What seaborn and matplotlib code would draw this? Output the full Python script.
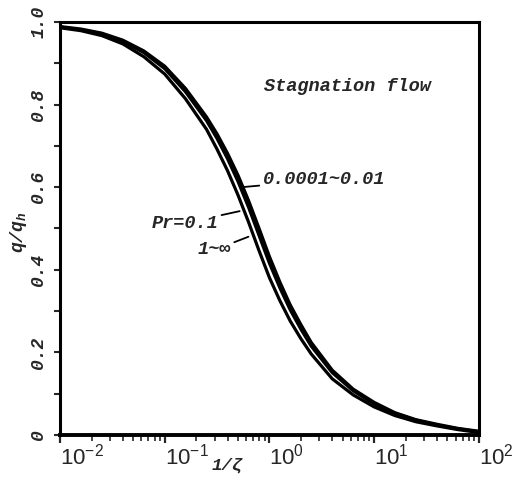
import numpy as np
import pandas as pd
import seaborn as sns
import matplotlib.pyplot as plt

# 1/zeta values (shared by all curves)
inv_zeta = [0.01, 0.0158, 0.0251, 0.0398, 0.0631, 0.1, 0.158, 0.251, 0.316, 0.398,
            0.501, 0.631, 0.794, 1.0, 1.26, 1.58, 2.0, 2.51, 3.98, 6.31,
            10, 15.8, 25.1, 39.8, 63.1, 100]

# q/q_h, one list per Pr group
q_low_pr = [0.989, 0.983, 0.973, 0.956, 0.930, 0.893, 0.839, 0.770, 0.729, 0.682,
            0.629, 0.568, 0.501, 0.432, 0.370, 0.315, 0.267, 0.224, 0.157, 0.111,
            0.079, 0.054, 0.037, 0.026, 0.016, 0.009]
q_pr_01 = [0.988, 0.981, 0.971, 0.953, 0.926, 0.887, 0.831, 0.761, 0.718, 0.669,
           0.614, 0.552, 0.484, 0.416, 0.356, 0.303, 0.256, 0.215, 0.151, 0.107,
           0.075, 0.052, 0.036, 0.024, 0.015, 0.008]
q_high_pr = [0.986, 0.979, 0.967, 0.947, 0.916, 0.874, 0.814, 0.740, 0.692, 0.640,
             0.581, 0.516, 0.447, 0.381, 0.325, 0.276, 0.233, 0.196, 0.136, 0.097,
             0.068, 0.047, 0.032, 0.022, 0.013, 0.006]

series_names = ["0.0001~0.01", "0.1", "1~inf"]

y_ticks = [0, 0.2, 0.4, 0.6, 0.8, 1.0]
y_tick_labels = ["0", "0.2", "0.4", "0.6", "0.8", "1.0"]
x_ticks = [0.01, 0.1, 1, 10, 100]
x_tick_labels = [r"$\mathregular{10^{-2}}$", r"$\mathregular{10^{-1}}$", r"$\mathregular{10^{0}}$",
                 r"$\mathregular{10^{1}}$", r"$\mathregular{10^{2}}$"]

df = pd.DataFrame({
    "x": inv_zeta * 3,
    "q": q_low_pr + q_pr_01 + q_high_pr,
    "Pr": np.repeat(series_names, len(inv_zeta)),
})

sns.set_style("ticks")
plt.rcParams["font.family"] = ["Liberation Sans", "DejaVu Sans"]
plt.rcParams["mathtext.fontset"] = "custom"
plt.rcParams["mathtext.rm"] = "Liberation Sans"
plt.rcParams["mathtext.it"] = "Liberation Mono:italic:bold"

mono = dict(family=["Liberation Mono", "DejaVu Sans Mono"], style="italic", weight="bold")

fig = plt.figure(figsize=(5.19, 4.78), dpi=100)
ax = fig.add_axes([0.1156, 0.09, 0.807, 0.864])

sns.lineplot(data=df, x="x", y="q", hue="Pr", palette=["black"] * 3,
             linewidth=2.3, legend=False, ax=ax)
for ln in ax.get_lines():
    ln.set_solid_joinstyle("round")

ax.set_xscale("log")
ax.set_xlim(0.01, 100)
ax.set_ylim(0, 1)

for s in ax.spines.values():
    s.set_linewidth(2.2)
    s.set_color("black")
ax.spines["bottom"].set_linewidth(2.8)

ax.set_yticks(y_ticks)
ax.set_yticks(np.arange(0.1, 1.0, 0.2), minor=True)
ax.set_yticklabels(y_tick_labels, rotation=90, va="center", fontsize=13, **mono)
ax.tick_params(axis="y", which="both", direction="out", length=4, width=1.5, pad=5)

ax.set_xticks(x_ticks)
ax.set_xticklabels(x_tick_labels, fontsize=16, ha="left")
ax.tick_params(axis="x", which="major", direction="out", length=6, width=1.6, pad=0)
ax.tick_params(axis="x", which="minor", direction="out", length=4, width=1.2)

ax.set_xlabel("1/\u03b6", fontsize=12.5, **mono)
ax.xaxis.set_label_coords(0.4, -0.055)
ax.set_ylabel("q/q$_h$", fontsize=13, **mono)
ax.yaxis.set_label_coords(-0.075, 0.49)

ax.text(0.488, 0.845, "Stagnation flow", transform=ax.transAxes, fontsize=13.4,
        ha="left", va="center", **mono)

# curve labels with leader lines
line_kw = dict(arrowstyle="-", lw=1.3, color="black", shrinkA=0, shrinkB=0)
ax.annotate("0.0001~0.01", xy=(0.546, 0.60), xytext=(0.86, 0.618),
            fontsize=13.4, ha="left", va="center", arrowprops=line_kw, **mono)
ax.annotate("Pr=0.1", xy=(0.52, 0.542), xytext=(0.325, 0.513),
            fontsize=13.4, ha="right", va="center", arrowprops=line_kw, **mono)
ax.annotate("1~\u221e", xy=(0.63, 0.48), xytext=(0.43, 0.448),
            fontsize=13.4, ha="right", va="center", arrowprops=line_kw, **mono)

fig.savefig("out.png", dpi=100)
